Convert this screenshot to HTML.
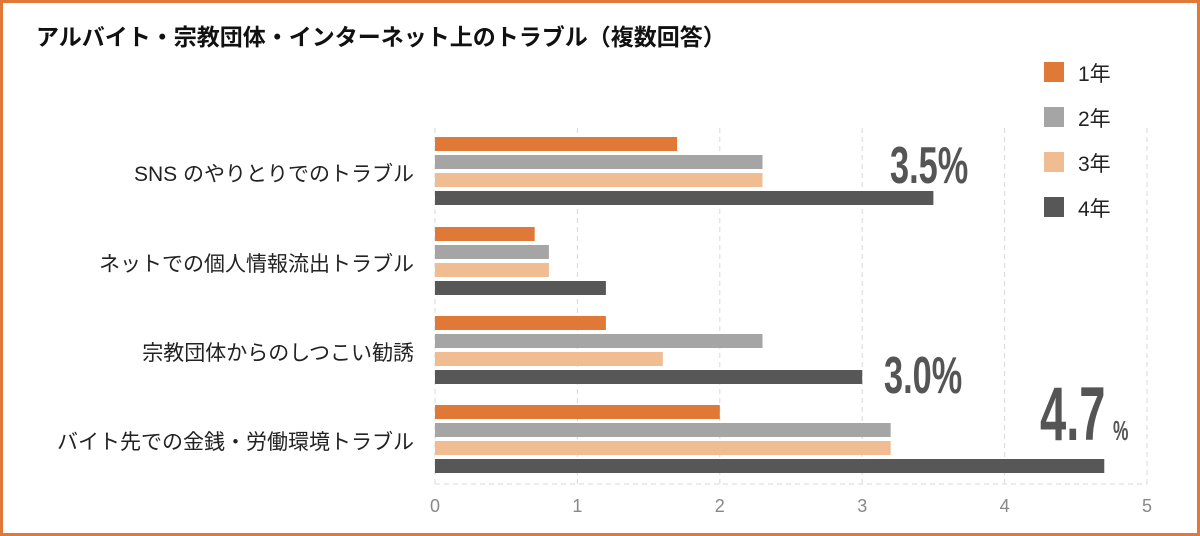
<!DOCTYPE html>
<html><head><meta charset="utf-8"><style>
body{margin:0;background:#fff}
svg{display:block}
text{font-family:"Liberation Sans","Noto Sans CJK JP",sans-serif}
</style></head><body>
<svg id="c" width="1200" height="536">
<rect x="1.5" y="1.5" width="1197" height="533" fill="#fff" stroke="#e07838" stroke-width="3"/>
<text x="36" y="45" font-size="23" font-weight="bold" fill="#111">アルバイト・宗教団体・インターネット上のトラブル（複数回答）</text>
<g id="grid"></g><g id="bars"></g><g id="labels"></g><g id="legend"></g>
<g transform="translate(890,183) scale(0.66,1)"><text font-size="52" font-weight="bold" fill="#555">3.5%</text></g>
<g transform="translate(884,393) scale(0.66,1)"><text font-size="52" font-weight="bold" fill="#555">3.0%</text></g>
<g transform="translate(1040,440) scale(0.62,1)"><text font-size="76" font-weight="bold" fill="#555">4.7</text></g>
<g transform="translate(1113,440) scale(0.62,1)"><text font-size="28" font-weight="bold" fill="#555">%</text></g>
</svg>
<script>
const categories=["SNS のやりとりでのトラブル","ネットでの個人情報流出トラブル","宗教団体からのしつこい勧誘","バイト先での金銭・労働環境トラブル"];
const seriesNames=["1年","2年","3年","4年"];
const year1=[1.7,0.7,1.2,2.0];
const year2=[2.3,0.8,2.3,3.2];
const year3=[2.3,0.8,1.6,3.2];
const year4=[3.5,1.2,3.0,4.7];
const ticks=[0,1,2,3,4,5];
const colors=["#e07838","#a5a5a5","#f0bd92","#575757"];
const NS="http://www.w3.org/2000/svg";
const X0=435,X1=1147,gTop=128,gBottom=484;
const xs=v=>X0+(X1-X0)*v/5;
const groupTop=[137,227,316,405],step=18,bh=14;
function mk(t,a,p){const e=document.createElementNS(NS,t);for(const k in a)e.setAttribute(k,a[k]);p.appendChild(e);return e;}
const grid=document.getElementById('grid'),bars=document.getElementById('bars'),labels=document.getElementById('labels'),legend=document.getElementById('legend');
ticks.forEach(t=>{
 const l=mk('line',{x1:xs(t),x2:xs(t),y1:gTop,y2:gBottom,stroke:'#d8d8d8','stroke-dasharray':'5,4'},grid);
 
 
 const tx=mk('text',{x:xs(t),y:512,'text-anchor':'middle','font-size':'18',fill:'#888'},grid);tx.textContent=t;
 
 
});
const bl=mk('line',{x1:X0,x2:X1,y1:gBottom,y2:gBottom,stroke:'#d8d8d8','stroke-dasharray':'5,4'},grid);


const series=[year1,year2,year3,year4];
categories.forEach((c,i)=>{
 series.forEach((s,j)=>{
  const r=mk('rect',{x:X0,y:groupTop[i]+j*step,width:xs(s[i])-X0,height:bh,fill:colors[j]},bars);
  
  
 });
 const t=mk('text',{x:414,y:groupTop[i]+44,'text-anchor':'end','font-size':'21',fill:'#222'},labels);t.textContent=c;
 
 
});
seriesNames.forEach((n,j)=>{
 const y=62+j*45;
 const g=mk('g',{},legend);
 
 
 mk('rect',{x:1044,y:y,width:20,height:20,fill:colors[j]},g);
 const t=mk('text',{x:1078,y:y+19,'font-size':'21',fill:'#222'},g);t.textContent=n;
});
</script>
</body></html>
